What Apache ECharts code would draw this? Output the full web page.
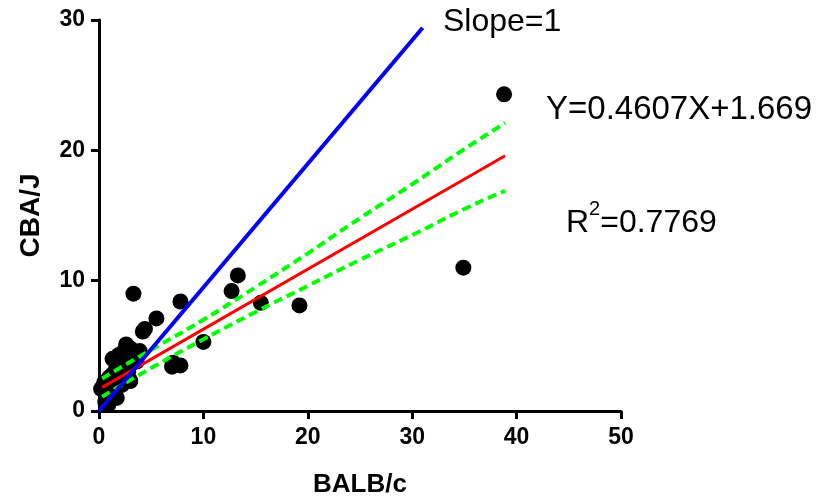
<!DOCTYPE html>
<html>
<head>
<meta charset="utf-8">
<script src="https://cdn.jsdelivr.net/npm/echarts@6/dist/echarts.min.js"></script>
<style>
html,body{margin:0;padding:0;background:#fff;}
#chart{width:829px;height:503px;}
</style>
</head>
<body>
<div id="chart"></div>
<script>
// Data
var pointsX = [0.2, 0.5, 0.6, 0.8, 0.9, 1.0, 1.1, 1.3, 1.3, 1.5, 1.6, 1.7, 1.8, 1.9, 2.0, 2.2, 2.3, 2.4, 2.6, 2.8, 3.0, 3.0, 3.3, 3.6, 3.9, 4.2, 4.4, 5.5, 7.0, 7.1, 7.8, 7.8, 10.0, 12.7, 13.3, 15.5, 19.2, 34.9, 38.8];
var pointsY = [1.7, 2.2, 0.7, 1.2, 0.5, 2.6, 1.8, 2.8, 4.0, 1.5, 3.2, 1.0, 2.4, 4.3, 3.5, 2.0, 3.9, 4.6, 5.1, 3.0, 2.3, 4.8, 9.0, 3.8, 4.6, 6.1, 6.3, 7.1, 3.4, 3.7, 3.5, 8.4, 5.3, 9.2, 10.4, 8.3, 8.1, 11.0, 24.3];

var identityX = [0, 31.0];
var identityY = [0, 29.4];

var fitX = [0.3, 38.9];
var fitY = [1.81, 19.59];

var bandX = [0.3, 5, 10, 15, 20, 25, 30, 35, 38.9];
var bandUpper = [2.5, 4.7, 7.0, 9.5, 12.1, 14.8, 17.4, 20.1, 22.1];
var bandLower = [1.1, 3.3, 5.5, 7.6, 9.6, 11.6, 13.5, 15.5, 16.9];

var xTicks = [0, 10, 20, 30, 40, 50];
var yTicks = [0, 10, 20, 30];

var labelSlope = 'Slope=1';
var labelEq = 'Y=0.4607X+1.669';
var labelR2 = '0.7769';

function zip(a, b) { return a.map(function (v, i) { return [v, b[i]]; }); }

var chart = echarts.init(document.getElementById('chart'), null, {renderer: 'canvas'});
var font = 'Liberation Sans, Arial, sans-serif';
var axisCommon = {
  axisLine: {show: true, onZero: false, lineStyle: {color: '#000', width: 3}},
  axisTick: {show: true, length: 8, lineStyle: {color: '#000', width: 3}},
  splitLine: {show: false},
  axisLabel: {color: '#000', fontFamily: font, fontWeight: 'bold', fontSize: 23}
};
chart.setOption({
  animation: false,
  backgroundColor: '#fff',
  grid: {left: 99, right: 208, top: 20, bottom: 90, containLabel: false},
  xAxis: Object.assign({}, axisCommon, {
    type: 'value', min: xTicks[0], max: xTicks[xTicks.length - 1], interval: 10,
    name: 'BALB/c', nameLocation: 'middle', nameGap: 61,
    nameTextStyle: {color: '#000', fontFamily: font, fontWeight: 'bold', fontSize: 26},
    axisLabel: Object.assign({}, axisCommon.axisLabel, {margin: 15})
  }),
  yAxis: Object.assign({}, axisCommon, {
    type: 'value', min: yTicks[0], max: yTicks[yTicks.length - 1], interval: 10,
    name: 'CBA/J', nameLocation: 'middle', nameGap: 54,
    nameTextStyle: {color: '#000', fontFamily: font, fontWeight: 'bold', fontSize: 28},
    axisLabel: Object.assign({}, axisCommon.axisLabel, {margin: 14})
  }),
  series: [
    {type: 'scatter', data: zip(pointsX, pointsY), symbol: 'circle', symbolSize: 16,
     itemStyle: {color: '#000', opacity: 1}, z: 1},
    {type: 'line', data: zip(identityX, identityY), showSymbol: false, symbol: 'none',
     lineStyle: {color: '#0000ff', width: 4}, z: 3},
    {type: 'line', data: zip(bandX, bandUpper), showSymbol: false, symbol: 'none', smooth: true,
     lineStyle: {color: '#00ff00', width: 4, type: [9, 5]}, z: 2},
    {type: 'line', data: zip(bandX, bandLower), showSymbol: false, symbol: 'none', smooth: true,
     lineStyle: {color: '#00ff00', width: 4, type: [9, 5]}, z: 2},
    {type: 'line', data: zip(fitX, fitY), showSymbol: false, symbol: 'none',
     lineStyle: {color: '#ff0000', width: 3}, z: 2}
  ],
  graphic: [
    {type: 'text', left: 443, top: 6, style: {text: labelSlope, fill: '#000', font: '32px ' + font}},
    {type: 'text', left: 546, top: 93, style: {text: labelEq, fill: '#000', font: '33px ' + font}},
    {type: 'text', left: 566, top: 199, style: {
      text: '{r|R}{s|2}{r|=' + labelR2 + '}', fill: '#000',
      rich: {
        r: {fontFamily: font, fontSize: 32, fill: '#000', verticalAlign: 'bottom', lineHeight: 40},
        s: {fontFamily: font, fontSize: 20, fill: '#000', verticalAlign: 'top', lineHeight: 40}
      }
    }}
  ]
});
</script>
</body>
</html>
